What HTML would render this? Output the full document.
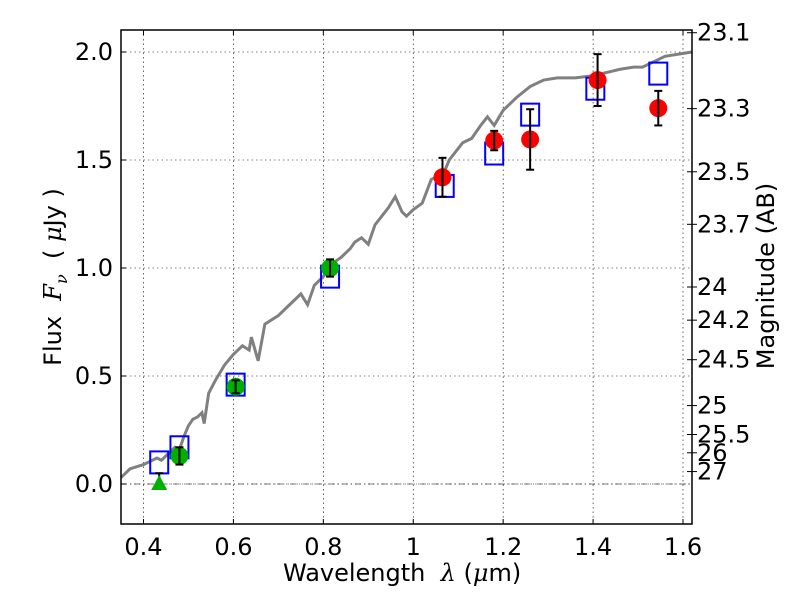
<!DOCTYPE html>
<html><head><meta charset="utf-8"><style>
body{margin:0;background:#fff;}
svg{display:block;font-family:"DejaVu Sans","Liberation Sans",sans-serif;}
</style></head><body>
<svg id="chart" width="800" height="600"></svg>
<script>
const specWave=[0.35,0.37,0.40,0.43,0.44,0.46,0.47,0.48,0.49,0.50,0.51,0.52,0.53,0.535,0.545,0.56,0.58,0.60,0.62,0.635,0.64,0.655,0.67,0.70,0.72,0.74,0.75,0.765,0.78,0.80,0.82,0.84,0.86,0.87,0.885,0.90,0.915,0.93,0.945,0.96,0.975,0.985,1.0,1.02,1.04,1.05,1.06,1.08,1.11,1.13,1.15,1.165,1.18,1.20,1.23,1.26,1.29,1.32,1.36,1.40,1.44,1.46,1.49,1.51,1.53,1.56,1.62];
const specFlux=[0.03,0.07,0.09,0.12,0.11,0.15,0.17,0.16,0.22,0.27,0.30,0.31,0.33,0.28,0.42,0.48,0.55,0.60,0.64,0.62,0.68,0.57,0.74,0.78,0.82,0.86,0.88,0.83,0.92,0.96,1.02,1.05,1.09,1.12,1.14,1.11,1.20,1.24,1.28,1.33,1.26,1.24,1.27,1.30,1.41,1.42,1.40,1.50,1.58,1.60,1.66,1.70,1.66,1.73,1.79,1.84,1.87,1.88,1.88,1.89,1.91,1.92,1.93,1.93,1.95,1.98,2.00];
const modelWave=[0.435,0.48,0.605,0.815,1.07,1.18,1.26,1.405,1.545];
const modelFlux=[0.10,0.17,0.46,0.96,1.38,1.53,1.71,1.83,1.90];
const greenWave=[0.48,0.605,0.815];
const greenFlux=[0.13,0.45,1.0];
const greenErr=[0.04,0.03,0.04];
const redWave=[1.065,1.18,1.26,1.41,1.545];
const redFlux=[1.42,1.59,1.595,1.87,1.74];
const redErr=[0.09,0.045,0.14,0.12,0.08];
const limWave=[0.435];
const limFlux=[0.0];
const limErr=[0.05];
const xTicks=[0.4,0.6,0.8,1.0,1.2,1.4,1.6];
const xTickLabels=["0.4","0.6","0.8","1","1.2","1.4","1.6"];
const yTicks=[0,0.5,1,1.5,2];
const yTickLabels=["0.0","0.5","1.0","1.5","2.0"];
const magTicks=[23.1,23.3,23.5,23.7,24,24.2,24.5,25,25.5,26,27];

const L=121,R=692,T=30,B=524;
const FS=24;
const X=v=>L+(v-0.35)/(1.62-0.35)*(R-L);
const Y=v=>484-216*v;
const NS="http://www.w3.org/2000/svg";
const svg=document.getElementById('chart');
function mk(tag,attrs,parent){const e=document.createElementNS(NS,tag);for(const k in attrs)e.setAttribute(k,attrs[k]);(parent||svg).appendChild(e);return e;}
xTicks.forEach((t,i)=>{
 const g=mk('line',{x1:X(t),x2:X(t),y1:T,y2:B,stroke:'#000','stroke-width':0.6,'stroke-dasharray':'1.5,3'});
 
 
 mk('line',{x1:X(t),x2:X(t),y1:B,y2:B-5,stroke:'#000'});
 mk('line',{x1:X(t),x2:X(t),y1:T,y2:T+5,stroke:'#000'});
 const tx=mk('text',{x:X(t),y:B+31,'text-anchor':'middle','font-size':FS});tx.textContent=xTickLabels[i];
 
 
});
yTicks.forEach((t,i)=>{
 const g=mk('line',{x1:L,x2:R,y1:Y(t),y2:Y(t),stroke:'#000','stroke-width':0.6,'stroke-dasharray':'1.5,3'});
 
 
 mk('line',{x1:L,x2:L+5,y1:Y(t),y2:Y(t),stroke:'#000'});
 const tx=mk('text',{x:L-8,y:Y(t)+8,'text-anchor':'end','font-size':FS});tx.textContent=yTickLabels[i];
 
 
});
mk('line',{x1:L,x2:R,y1:Y(0),y2:Y(0),stroke:'#000','stroke-width':0.6,'stroke-dasharray':'6,3,1,3'});
const sp=mk('polyline',{points:specWave.map((w,i)=>X(w)+','+Y(specFlux[i])).join(' '),fill:'none',stroke:'#808080','stroke-width':3});


modelWave.forEach((w,i)=>{
 const r=mk('rect',{x:X(w)-9,y:Y(modelFlux[i])-11,width:18,height:22,fill:'none',stroke:'#0000ff','stroke-width':2});
 
 
});
function errbar(x,v,e){
 mk('line',{x1:X(x),x2:X(x),y1:Y(v-e),y2:Y(v+e),stroke:'#000','stroke-width':2});
 mk('line',{x1:X(x)-4,x2:X(x)+4,y1:Y(v-e),y2:Y(v-e),stroke:'#000','stroke-width':2});
 mk('line',{x1:X(x)-4,x2:X(x)+4,y1:Y(v+e),y2:Y(v+e),stroke:'#000','stroke-width':2});
}
greenWave.forEach((w,i)=>{
 const c=mk('circle',{cx:X(w),cy:Y(greenFlux[i]),r:9,fill:'#00b000'});
 
 
 errbar(w,greenFlux[i],greenErr[i]);
});
redWave.forEach((w,i)=>{
 const c=mk('circle',{cx:X(w),cy:Y(redFlux[i]),r:9,fill:'#ff0000'});
 
 
 errbar(w,redFlux[i],redErr[i]);
});
limWave.forEach((w,i)=>{
 errbar(w,limFlux[i]+limErr[i]/2,limErr[i]/2);
 const x=X(w),y=Y(limFlux[i]);
 const p=mk('polygon',{points:`${x},${y-9} ${x-8},${y+6} ${x+8},${y+6}`,fill:'#00b000'});
 
 
});
magTicks.forEach(m=>{
 const y=Y(Math.pow(10,(23.9-m)/2.5));
 mk('line',{x1:R,x2:R+5,y1:y,y2:y,stroke:'#000'});
 mk('line',{x1:R,x2:R-5,y1:y,y2:y,stroke:'#000'});
 const tx=mk('text',{x:R+5,y:y+8,'font-size':FS});tx.textContent=String(m);
 
 
});
const fr=mk('rect',{x:L,y:T,width:R-L,height:B-T,fill:'none',stroke:'#000','stroke-width':1.5});


</script>
<div style="position:absolute;left:0;top:0;width:800px;height:600px;pointer-events:none;font-family:'DejaVu Sans','Liberation Sans',sans-serif;">
 <div style="position:absolute;left:283px;top:559px;font-size:24px;white-space:nowrap;">Wavelength &nbsp;<i style="font-family:'DejaVu Serif',serif">λ</i> (<i style="font-family:'DejaVu Serif',serif">μ</i>m)</div>
 <div style="position:absolute;left:55px;top:277px;font-size:24px;white-space:nowrap;transform:translate(-50%,-50%) rotate(-90deg);">Flux &nbsp;<i style="font-family:'DejaVu Serif',serif">F<sub style="font-size:16px">ν</sub></i> &nbsp;( <i style="font-family:'DejaVu Serif',serif">μ</i>Jy )</div>
 <div style="position:absolute;left:766px;top:276px;font-size:24px;white-space:nowrap;transform:translate(-50%,-50%) rotate(-90deg);">Magnitude (AB)</div>
</div>
</body></html>
